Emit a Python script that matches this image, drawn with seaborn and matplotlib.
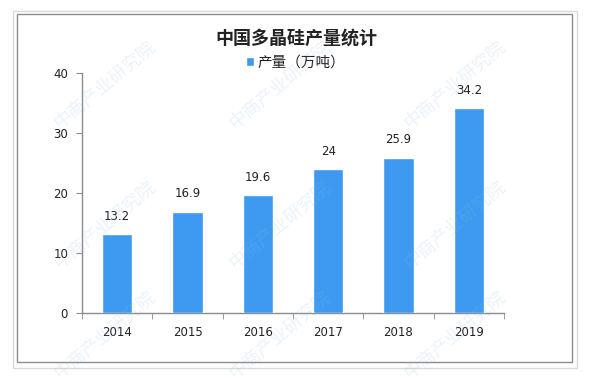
import matplotlib
matplotlib.use('Agg')
import matplotlib.pyplot as plt
import seaborn as sns
import pandas as pd
from matplotlib.patches import Rectangle

# data
years = ['2014', '2015', '2016', '2017', '2018', '2019']
output = [13.2, 16.9, 19.6, 24, 25.9, 34.2]
value_labels = ['13.2', '16.9', '19.6', '24', '25.9', '34.2']
yticks = [0, 10, 20, 30, 40]

sns.set_style('white')
plt.rcParams['font.family'] = ['Noto Sans CJK SC', 'DejaVu Sans']

df = pd.DataFrame({'year': years, 'output': output})

W, H = 593, 381
fig = plt.figure(figsize=(W / 100, H / 100), dpi=100)
ax = fig.add_axes([82 / W, 1 - 313 / H, (504 - 82) / W, (313 - 73) / H])

# outer and inner frame
fig.patches.append(Rectangle((13 / W, 1 - 368 / H), (577 - 13) / W, (368 - 11) / H,
                             transform=fig.transFigure, fill=False, ec='#d9d9d9', lw=1))
fig.patches.append(Rectangle((17 / W, 1 - 362 / H), (572 - 17) / W, (362 - 14) / H,
                             transform=fig.transFigure, fill=False, ec='#8c8c8c', lw=1))

sns.barplot(data=df, x='year', y='output', color='#3d9af0', saturation=1,
            width=0.43, ax=ax, label='产量（万吨）', zorder=3)

ax.bar_label(ax.containers[0], labels=value_labels, padding=8, fontsize=8.5,
             family='DejaVu Sans', color='#222222')

ax.set_xlim(-0.5, 5.5)
ax.set_ylim(0, 40)
ax.set_yticks(yticks)
ax.set_xlabel('')
ax.set_ylabel('')
ax.set_facecolor('none')
ax.patch.set_alpha(0)

ax.set_xticks([i - 0.5 for i in range(7)], minor=True)
ax.tick_params(axis='x', which='major', length=0, labelsize=8.5, pad=9, labelcolor='#222222')
ax.tick_params(axis='x', which='minor', length=4, direction='out', color='#8c8c8c', bottom=True)
ax.tick_params(axis='y', length=4, direction='out', color='#8c8c8c', labelsize=8.5,
               labelcolor='#222222', left=True, pad=6)
for lbl in ax.get_xticklabels() + ax.get_yticklabels():
    lbl.set_family('DejaVu Sans')

sns.despine(ax=ax)
for s in ['left', 'bottom']:
    ax.spines[s].set_color('#8c8c8c')
    ax.spines[s].set_linewidth(1)

fig.text(296 / W, 1 - 38 / H, '中国多晶硅产量统计', ha='center', va='center',
         fontsize=13, fontweight='bold', color='#222222')

ax.legend(loc='center', bbox_to_anchor=(296 / W, 1 - 63 / H), bbox_transform=fig.transFigure,
          frameon=False, fontsize=10.5, handlelength=0.55, handleheight=0.55,
          handletextpad=0.25, labelcolor='#222222')

# faint watermarks
for cx in [105, 280, 455]:
    for cy in [85, 225, 335]:
        fig.text(cx / W, 1 - cy / H, '中商产业研究院', rotation=40, color='#8fbbe6',
                 alpha=0.18, fontsize=13, ha='center', va='center', zorder=10)

fig.savefig('out.png', dpi=100)
